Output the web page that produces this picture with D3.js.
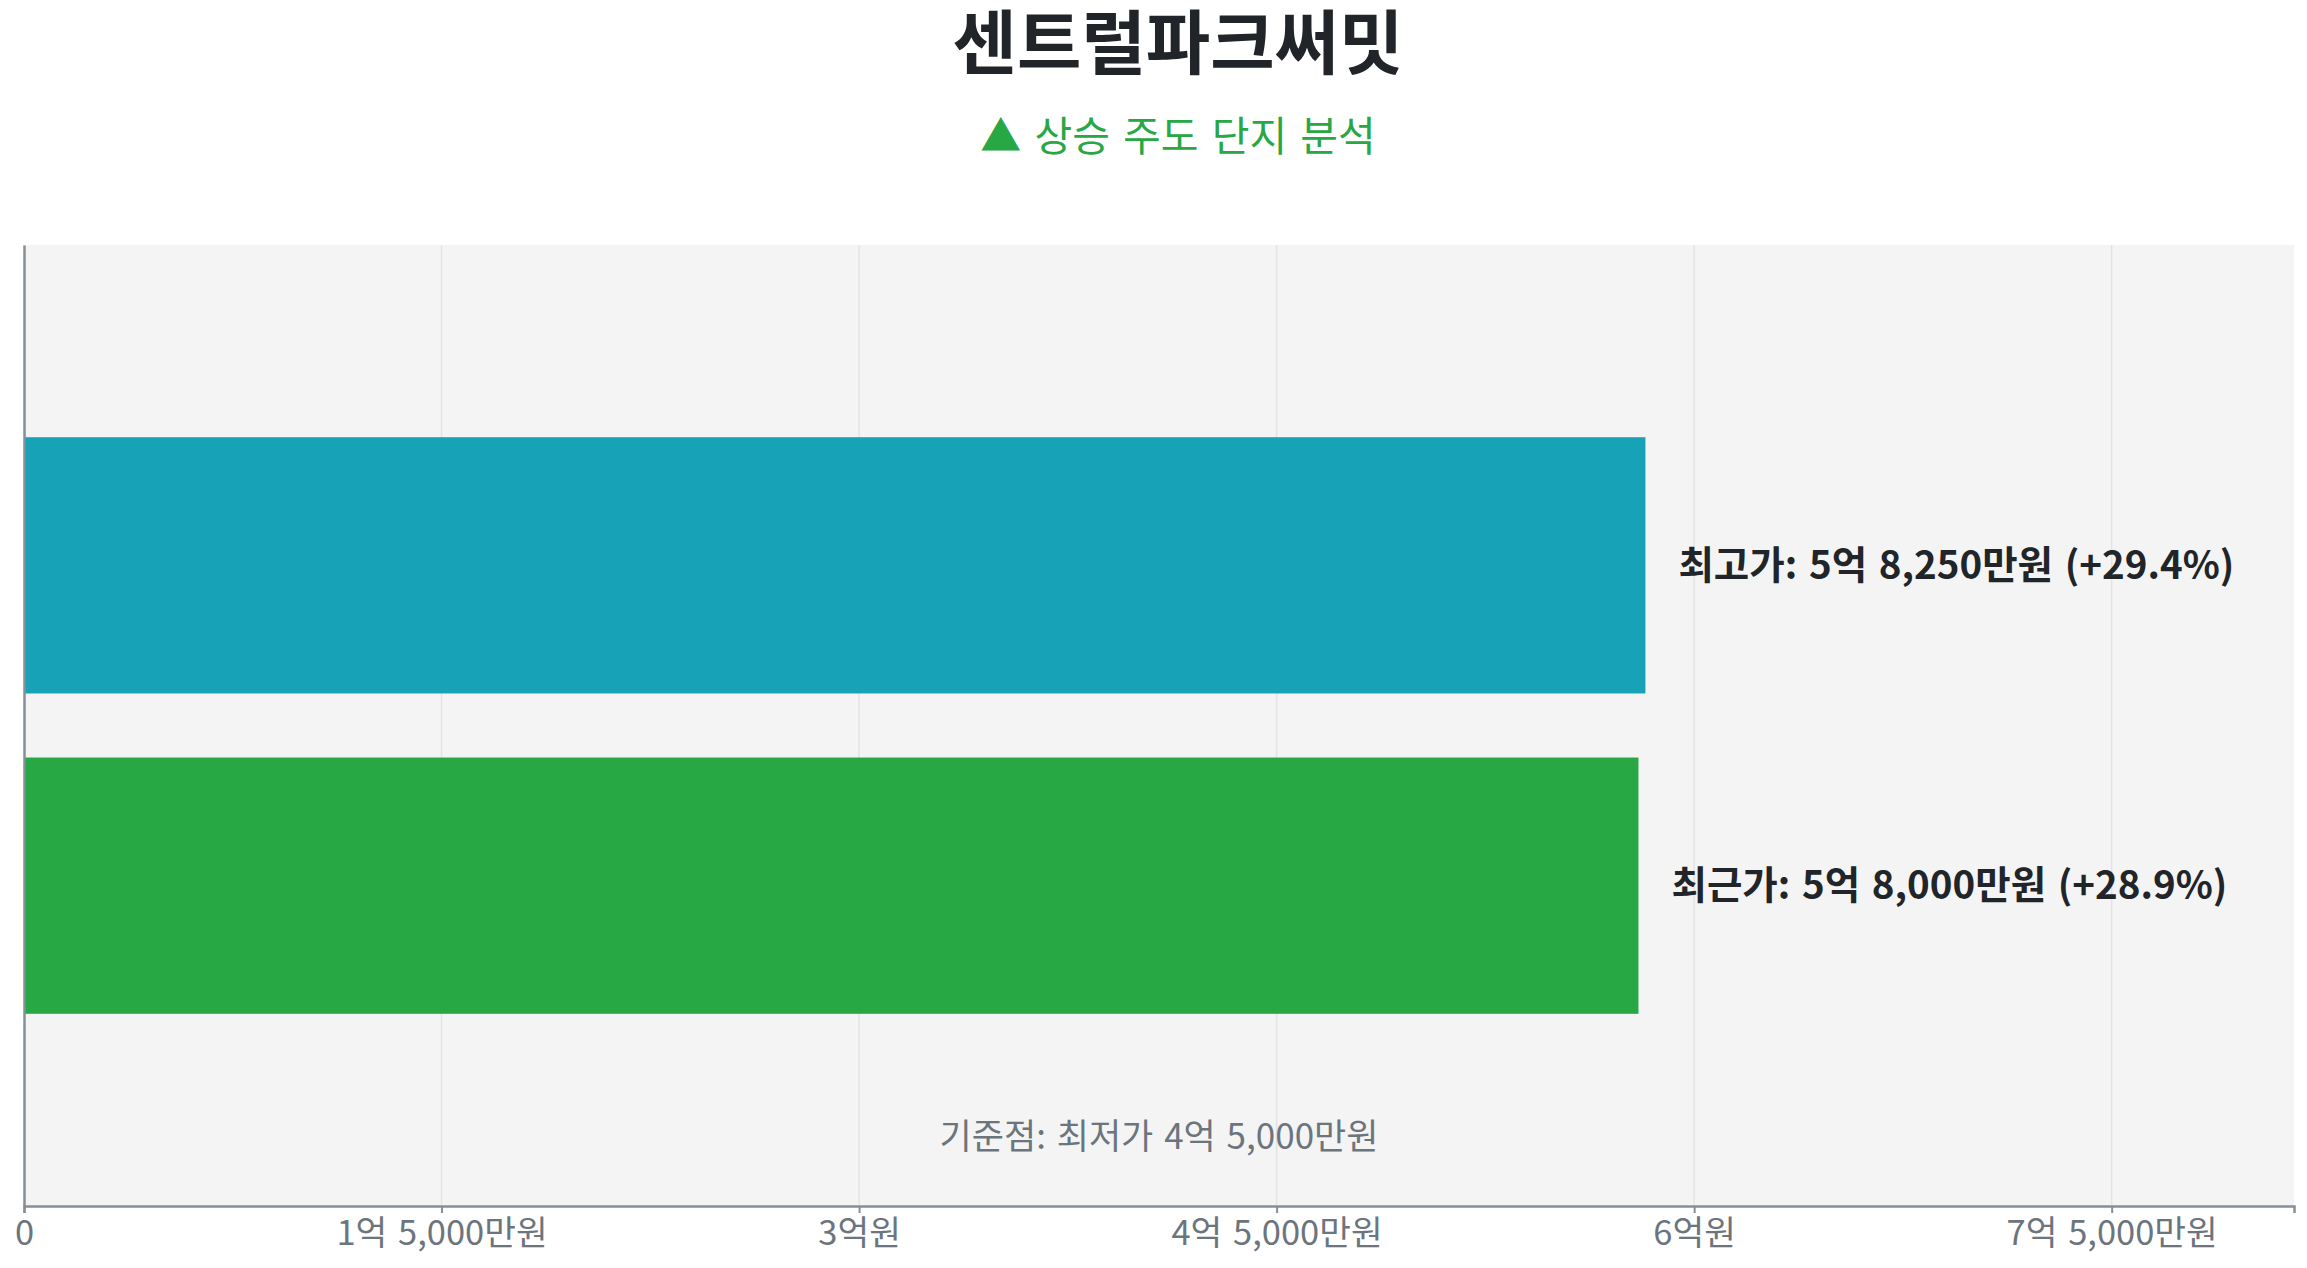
<!DOCTYPE html>
<html>
<head>
<meta charset="utf-8">
<script src="https://cdn.jsdelivr.net/npm/d3@7"></script>
<style>
  html, body { margin: 0; padding: 0; background: #fff; }
  text { font-family: "Noto Sans CJK KR", "Noto Sans", sans-serif; }
</style>
</head>
<body>
<div id="canvas"></div>
<script>
const categories = ["최고가", "최근가"];
const prices = [582500000, 580000000];
const barColors = ["#17a2b8", "#28a745"];
const basePrice = 450000000;
const tickValues = [0, 150000000, 300000000, 450000000, 600000000, 750000000];

const width = 2307;
const height = 1268;
const margin = { top: 245, left: 24, bottom: 62, right: 13 };
const iwidth = width - margin.left - margin.right;
const iheight = height - margin.top - margin.bottom;

// 억 / 만원 formatting
function won(v) {
  if (v === 0) return "0";
  const eok = Math.floor(v / 100000000);
  const man = Math.round((v % 100000000) / 10000);
  if (man === 0) return eok + "억원";
  return (eok > 0 ? eok + "억 " : "") + d3.format(",")(man) + "만원";
}

const svg = d3.select("#canvas").append("svg")
  .attr("width", width)
  .attr("height", height);

svg.append("text")
  .attr("x", 1178)
  .attr("y", 69)
  .attr("text-anchor", "middle")
  .style("font-size", "70px")
  .style("font-weight", "bold")
  .style("fill", "#212529")
  .text("센트럴파크써밋");

svg.append("text")
  .attr("x", 1178)
  .attr("y", 151)
  .attr("text-anchor", "middle")
  .style("font-size", "41px")
  .style("word-spacing", "4px")
  .style("fill", "#28a745")
  .text("▲ 상승 주도 단지 분석");

const g = svg.append("g")
  .attr("transform", `translate(${margin.left},${margin.top})`);

const x = d3.scaleLinear()
  .domain([0, d3.max(prices) * 1.4])
  .range([0, iwidth]);

const y = d3.scaleBand()
  .domain(categories)
  .range([0, iheight])
  .paddingInner(0.2)
  .paddingOuter(0.6);

g.append("rect")
  .attr("width", iwidth)
  .attr("height", iheight)
  .style("fill", "#f4f4f4");

// vertical grid
g.selectAll(".grid")
  .data(tickValues.filter((d) => d > 0))
  .enter()
  .append("line")
  .attr("class", "grid")
  .attr("x1", (d) => x(d))
  .attr("x2", (d) => x(d))
  .attr("y1", 0)
  .attr("y2", iheight)
  .style("stroke", "#e4e4e4")
  .style("stroke-width", 1.5);

g.selectAll(".bar")
  .data(prices)
  .enter()
  .append("rect")
  .attr("class", "bar")
  .attr("x", 0)
  .attr("y", (d, i) => y(categories[i]))
  .attr("height", y.bandwidth())
  .attr("width", (d) => x(d))
  .style("fill", (d, i) => barColors[i]);

g.selectAll(".label")
  .data(prices)
  .enter()
  .append("text")
  .attr("class", "label")
  .attr("x", (d) => x(d) + 33)
  .attr("y", (d, i) => y(categories[i]) + y.bandwidth() / 2)
  .attr("dy", "0.35em")
  .style("font-size", "38.5px")
  .style("word-spacing", "3px")
  .style("font-weight", "bold")
  .style("fill", "#212529")
  .text((d, i) => {
    const pct = ((d - basePrice) / basePrice) * 100;
    return `${categories[i]}: ${won(d)} (+${pct.toFixed(1)}%)`;
  });

g.append("text")
  .attr("x", iwidth / 2)
  .attr("y", iheight - 57)
  .attr("text-anchor", "middle")
  .style("font-size", "35px")
  .style("word-spacing", "3px")
  .style("fill", "#6c757d")
  .text("기준점: 최저가 " + won(basePrice));

const xAxis = g.append("g")
  .attr("transform", `translate(0, ${iheight})`)
  .call(d3.axisBottom(x).tickValues(tickValues).tickFormat(won).tickSize(7).tickPadding(7));
xAxis.select(".domain").style("stroke", "#868e96").style("stroke-width", 2.5);
xAxis.selectAll(".tick line").style("stroke", "#868e96").style("stroke-width", 2);
xAxis.selectAll(".tick text")
  .style("font-size", "34.5px")
  .style("word-spacing", "3px")
  .style("fill", "#6c757d")
  .style("font-family", '"Noto Sans CJK KR", sans-serif');

const yAxis = g.append("g")
  .call(d3.axisLeft(y).tickSize(0).tickFormat(""));
yAxis.select(".domain").style("stroke", "#868e96").style("stroke-width", 2.5);
</script>
</body>
</html>
